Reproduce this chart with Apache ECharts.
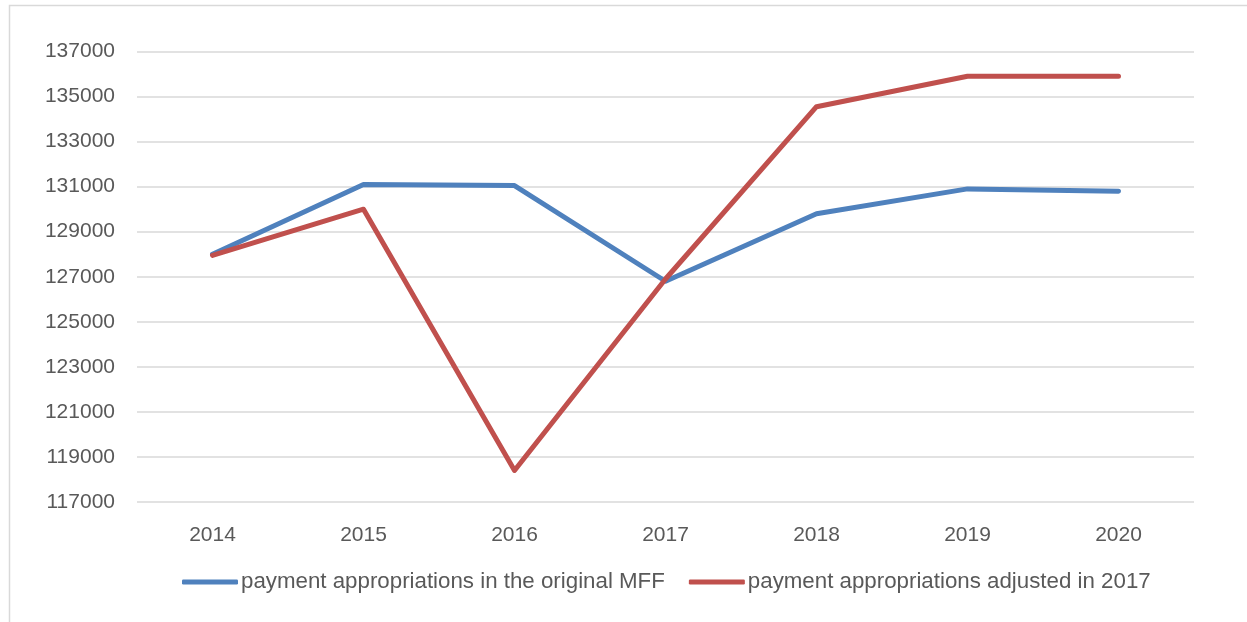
<!DOCTYPE html>
<html>
<head>
<meta charset="utf-8">
<script src="https://cdn.jsdelivr.net/npm/echarts@6/dist/echarts.min.js"></script>
<style>
  html, body { margin: 0; padding: 0; background: #fff; }
  #chart { width: 1247px; height: 622px; }
</style>
</head>
<body>
<div id="chart"></div>
<script>
// data
const years = ['2014', '2015', '2016', '2017', '2018', '2019', '2020'];
const originalMff = [128000, 131100, 131050, 126800, 129800, 130900, 130800];
const adjusted2017 = [127950, 130000, 118400, 126900, 134550, 135900, 135900];
const seriesNames = ['payment appropriations in the original MFF', 'payment appropriations adjusted in 2017'];

const textColor = '#595959';
const font = 'Liberation Sans';

const myChart = echarts.init(document.getElementById('chart'));
myChart.setOption({
  color: ['#4F81BD', '#C0504D'],
  animation: false,
  graphic: [{
    type: 'rect',
    shape: { x: 9.5, y: 5.5, width: 1260, height: 640 },
    style: { fill: 'none', stroke: '#D9D9D9', lineWidth: 1.5 },
    silent: true
  }],
  grid: { left: 137, right: 53, top: 51.5, bottom: 120 },
  legend: {
    bottom: 24,
    left: 177,
    itemWidth: 56,
    itemHeight: 5,
    itemGap: 24,
    icon: 'roundRect',
    textStyle: { color: textColor, fontSize: 22.3, fontFamily: font, padding: [0, 0, 0, -2] },
    data: seriesNames
  },
  xAxis: {
    type: 'category',
    data: years,
    axisLine: { show: false },
    axisTick: { show: false },
    axisLabel: { color: textColor, fontSize: 21, fontFamily: font, margin: 23 }
  },
  yAxis: {
    type: 'value',
    min: 117000,
    max: 137000,
    interval: 2000,
    axisLine: { show: false },
    axisTick: { show: false },
    axisLabel: { color: textColor, fontSize: 21, fontFamily: font, margin: 22, formatter: v => String(v) },
    splitLine: { lineStyle: { color: '#D9D9D9', width: 1.5 } }
  },
  series: [
    {
      name: seriesNames[0],
      type: 'line',
      data: originalMff,
      showSymbol: false,
      lineStyle: { width: 5, cap: 'round', join: 'round' }
    },
    {
      name: seriesNames[1],
      type: 'line',
      data: adjusted2017,
      showSymbol: false,
      lineStyle: { width: 5, cap: 'round', join: 'round' }
    }
  ]
});
</script>
</body>
</html>
